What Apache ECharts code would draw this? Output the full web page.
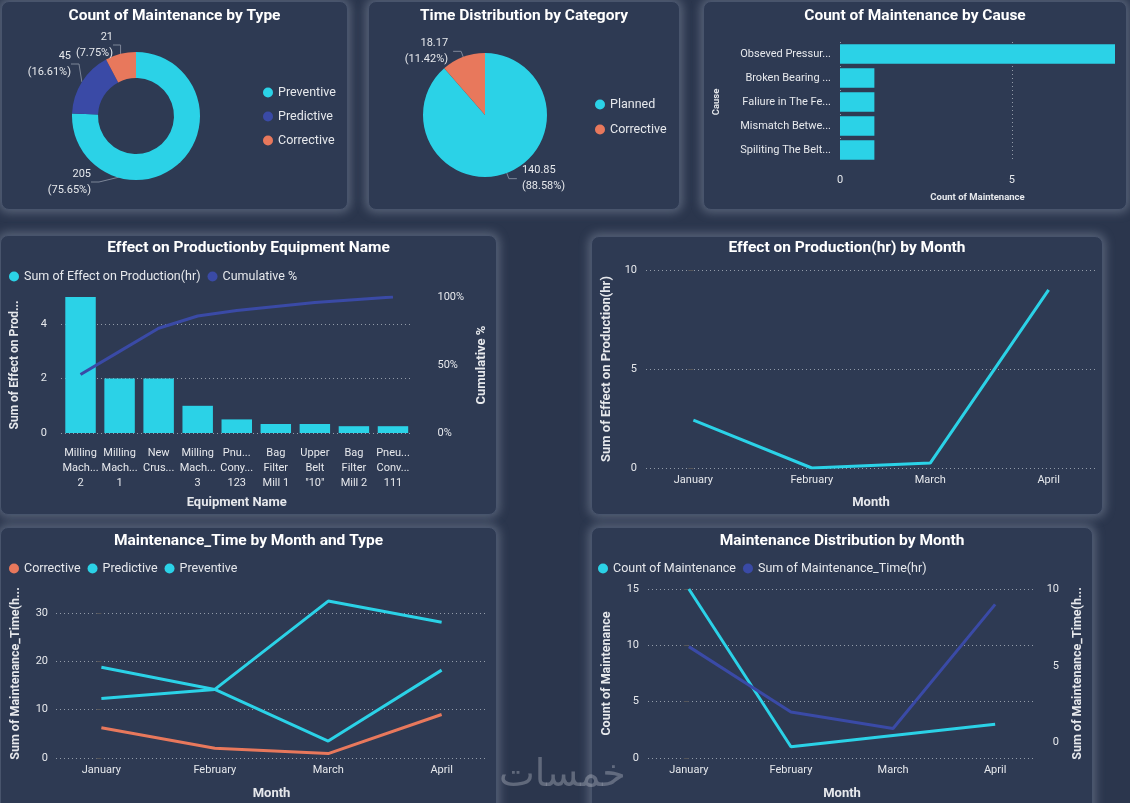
<!DOCTYPE html>
<html lang="en">
<head>
<meta charset="UTF-8">
<title>Maintenance Dashboard</title>
<script src="https://cdn.jsdelivr.net/npm/echarts@6/dist/echarts.min.js"></script>
<style>
  html, body { margin: 0; padding: 0; width: 1130px; height: 803px; overflow: hidden; background: #2b364d; }
  .panel { position: absolute; background: #2e3a53; border: 1px solid #48546c; border-radius: 8px;
           box-shadow: 0 0 10px 3px rgba(140, 150, 170, 0.45); box-sizing: border-box; }
  #mark { position: absolute; left: 499px; top: 751px; font: 38px 'DejaVu Sans', sans-serif;
          color: rgba(205, 210, 220, 0.33); direction: rtl; z-index: 5; pointer-events: none; }
</style>
</head>
<body>
<div class="panel" id="p1" style="left:1px;top:1px;width:347px;height:209px"></div>
<div class="panel" id="p2" style="left:368px;top:1px;width:312px;height:209px"></div>
<div class="panel" id="p3" style="left:703px;top:1px;width:424px;height:209px"></div>
<div class="panel" id="p4" style="left:0px;top:235px;width:497px;height:280px"></div>
<div class="panel" id="p5" style="left:591px;top:236px;width:512px;height:279px"></div>
<div class="panel" id="p6" style="left:0px;top:527px;width:497px;height:290px"></div>
<div class="panel" id="p7" style="left:591px;top:527px;width:502px;height:290px"></div>
<div id="mark">خمسات</div>
<script>
// ---- data ----
var typeNames = ['Preventive', 'Predictive', 'Corrective'];
var typeCounts = [205, 45, 21];

var timeCategories = ['Planned', 'Corrective'];
var timeValues = [140.85, 18.166];

var causes = ['Obseved Pressur...', 'Broken Bearing ...', 'Faliure in The Fe...', 'Mismatch Betwe...', 'Spiliting The Belt...'];
var causeCounts = [8, 1, 1, 1, 1];

var equipment = ['Milling\nMach...\n2', 'Milling\nMach...\n1', 'New\nCrus...', 'Milling\nMach...\n3',
                 'Pnu...\nCony...\n123', 'Bag\nFilter\nMill 1', 'Upper\nBelt\n"10"', 'Bag\nFilter\nMill 2', 'Pneu...\nConv...\n111'];
var effectByEquip = [5, 2, 2, 1, 0.5, 0.33, 0.33, 0.25, 0.25];
var cumulativePct = [43, 60, 77, 86, 90, 93, 96, 98, 100];

var months = ['January', 'February', 'March', 'April'];
var effectByMonth = [2.42, 0, 0.25, 9];

var correctiveTime = [6.25, 2, 0.92, 9];
var predictiveTime = [18.8, 14.2, 3.5, 18.2];
var preventiveTime = [12.3, 14.2, 32.5, 28.1];

var countByMonth = [15, 1, 2, 3];

// ---- styling ----
var CYAN = '#2bd2e7', INDIGO = '#3a4aa6', SALMON = '#e8785c';
var TXT = '#e6e8ec';
var GRID = 'rgba(230,235,240,0.55)';
var FONT = "Roboto, 'Noto Sans', sans-serif";

function title(text, top) {
    return { text: text, left: 'center', top: top, padding: 0,
             textStyle: { color: '#ffffff', fontSize: 15.5, fontWeight: 'bold', fontFamily: FONT } };
}
function legendText() { return { color: TXT, fontSize: 12.5, fontFamily: FONT }; }
function axisName(size) { return { color: TXT, fontSize: size || 13, fontWeight: 'bold', fontFamily: FONT }; }
function numLabel(extra) {
    return Object.assign({ color: TXT, fontSize: 11, fontFamily: FONT }, extra || {});
}
function dotted() { return { show: true, lineStyle: { color: GRID, type: [1, 3], width: 1 } }; }
function toPairs(vals) { return vals.map(function (v, i) { return [i, v]; }); }
function sum(vals) { return vals.reduce(function (a, b) { return a + b; }, 0); }
var pieRich = {
    r: { align: 'right', color: TXT, fontSize: 11, fontFamily: FONT, lineHeight: 16 },
    l: { align: 'left', color: TXT, fontSize: 11, fontFamily: FONT, lineHeight: 16 }
};

function monthAxis(nameGap) {
    return {
        type: 'value', min: -0.4, max: 3.4,
        name: 'Month', nameLocation: 'middle', nameGap: nameGap, nameTextStyle: axisName(),
        axisLabel: numLabel({ customValues: [0, 1, 2, 3], formatter: function (v) { return months[v]; }, margin: 7 }),
        axisLine: { show: false }, axisTick: { show: false }, splitLine: { show: false }
    };
}

// ---- Count of Maintenance by Type ----
var typeTotal = sum(typeCounts);
// label anchors as Power BI places them (label boxes only, not the slices)
var typeLabelPos = [[89, 180], [69, 62], [111, 43]];
var c1 = echarts.init(document.getElementById('p1'));
c1.setOption({
    animation: false,
    title: title('Count of Maintenance by Type', 6),
    legend: { orient: 'vertical', left: 256, top: 79, icon: 'circle', itemWidth: 10, itemHeight: 10,
              itemGap: 11, textStyle: legendText() },
    series: [{
        type: 'pie', center: [134, 114], radius: [38, 64], startAngle: 90,
        color: [CYAN, INDIGO, SALMON],
        data: typeNames.map(function (n, i) { return { name: n, value: typeCounts[i] }; }),
        label: { rich: pieRich,
                 formatter: function (p) {
                     return '{r|' + p.value + '}\n{r|(' + (p.value / typeTotal * 100).toFixed(2) + '%)}';
                 } },
        labelLine: { length: 6, length2: 8, lineStyle: { color: '#7d8698' } },
        labelLayout: function (p) {
            var pos = typeLabelPos[p.dataIndex];
            return { x: pos[0], y: pos[1], align: 'right', verticalAlign: 'middle' };
        }
    }]
});

// ---- Time Distribution by Category ----
var timeTotal = sum(timeValues);
var c2 = echarts.init(document.getElementById('p2'));
c2.setOption({
    animation: false,
    title: title('Time Distribution by Category', 6),
    legend: { orient: 'vertical', left: 221, top: 91, icon: 'circle', itemWidth: 10, itemHeight: 10,
              itemGap: 12, textStyle: legendText() },
    series: [{
        type: 'pie', center: [116, 113], radius: 62, startAngle: 90,
        color: [CYAN, SALMON],
        data: timeCategories.map(function (n, i) { return { name: n, value: timeValues[i] }; }),
        label: { rich: pieRich,
                 formatter: function (p) {
                     var k = p.dataIndex === 0 ? 'l' : 'r';
                     return '{' + k + '|' + p.value.toFixed(2) + '}\n{' + k + '|(' +
                            (p.value / timeTotal * 100).toFixed(2) + '%)}';
                 } },
        labelLine: { length: 6, length2: 8, lineStyle: { color: '#7d8698' } }
    }]
});

// ---- Count of Maintenance by Cause ----
var c3 = echarts.init(document.getElementById('p3'));
c3.setOption({
    animation: false,
    title: title('Count of Maintenance by Cause', 6),
    grid: { left: 132, right: 11, top: 40, bottom: 47 },
    xAxis: {
        type: 'value', min: 0, max: 8, interval: 5,
        name: 'Count of Maintenance', nameLocation: 'middle', nameGap: 31, nameTextStyle: axisName(9.5),
        axisLabel: numLabel({ showMaxLabel: false, margin: 13 }),
        splitLine: Object.assign(dotted(), { showMaxLine: false }),
        axisLine: { show: false }, axisTick: { show: false }
    },
    yAxis: {
        type: 'category', inverse: true, data: causes,
        name: 'Cause', nameLocation: 'middle', nameGap: 118, nameTextStyle: axisName(9.5),
        axisLabel: { color: TXT, fontSize: 11, fontFamily: FONT, margin: 9 },
        axisLine: { show: false }, axisTick: { show: false }
    },
    series: [{ type: 'bar', data: causeCounts, barCategoryGap: '18%', itemStyle: { color: CYAN } }]
});

// ---- Effect on Production by Equipment Name ----
var c4 = echarts.init(document.getElementById('p4'));
c4.setOption({
    animation: false,
    title: title('Effect on Productionby Equipment Name', 4),
    legend: { left: 3, top: 29, icon: 'circle', itemWidth: 10, itemHeight: 10, itemGap: 7, textStyle: legendText() },
    grid: { left: 56, right: 77, top: 61, bottom: 77 },
    xAxis: {
        type: 'category', data: equipment,
        name: 'Equipment Name', nameLocation: 'middle', nameGap: 63, nameTextStyle: axisName(),
        axisLabel: { color: TXT, fontSize: 11, fontFamily: FONT, lineHeight: 15, margin: 13, interval: 0 },
        axisLine: { show: false }, axisTick: { show: false }
    },
    yAxis: [{
        type: 'value', min: 0, max: 5, interval: 2,
        name: 'Sum of Effect on Prod...', nameLocation: 'middle', nameGap: 40, nameTextStyle: axisName(12),
        axisLabel: numLabel({ showMaxLabel: false, margin: 14 }),
        axisLine: { show: false },
        splitLine: Object.assign(dotted(), { showMaxLine: false })
    }, {
        type: 'value', min: 0, max: 100, interval: 50,
        name: 'Cumulative %', nameLocation: 'middle', nameGap: 62, nameTextStyle: axisName(),
        axisLabel: numLabel({ formatter: '{value}%', margin: 25 }),
        axisLine: { show: false }, splitLine: { show: false }
    }],
    series: [{
        type: 'bar', name: 'Sum of Effect on Production(hr)', data: effectByEquip,
        barCategoryGap: '22%', itemStyle: { color: CYAN }
    }, {
        type: 'line', name: 'Cumulative %', yAxisIndex: 1, data: cumulativePct, symbol: 'none',
        lineStyle: { color: INDIGO, width: 3 }, itemStyle: { color: INDIGO }
    }]
});

// ---- Effect on Production(hr) by Month ----
var c5 = echarts.init(document.getElementById('p5'));
c5.setOption({
    animation: false,
    title: title('Effect on Production(hr) by Month', 3),
    grid: { left: 47, right: 6, top: 33, bottom: 43 },
    xAxis: monthAxis(28),
    yAxis: {
        type: 'value', min: 0, max: 10, interval: 5,
        name: 'Sum of Effect on Production(hr)', nameLocation: 'middle', nameGap: 33, nameTextStyle: axisName(),
        axisLabel: numLabel({ margin: 9 }),
        axisLine: { show: false },
        splitLine: dotted()
    },
    series: [{ type: 'line', data: toPairs(effectByMonth), symbol: 'none', lineStyle: { color: CYAN, width: 3 } }]
});

// ---- Maintenance_Time by Month and Type ----
var c6 = echarts.init(document.getElementById('p6'));
c6.setOption({
    animation: false,
    title: title('Maintenance_Time by Month and Type', 5),
    legend: { left: 3, top: 29, icon: 'circle', itemWidth: 10, itemHeight: 10, itemGap: 7, textStyle: legendText() },
    grid: { left: 48, right: 9, top: 61, bottom: 58 },
    xAxis: monthAxis(29),
    yAxis: {
        type: 'value', min: 0, max: 35, interval: 10,
        name: 'Sum of Maintenance_Time(h...', nameLocation: 'middle', nameGap: 34, nameTextStyle: axisName(12.5),
        axisLabel: numLabel({ showMaxLabel: false, margin: 8 }),
        axisLine: { show: false },
        splitLine: Object.assign(dotted(), { showMaxLine: false })
    },
    series: [
        { type: 'line', name: 'Corrective', data: toPairs(correctiveTime), symbol: 'none',
          lineStyle: { color: SALMON, width: 3 }, itemStyle: { color: SALMON } },
        { type: 'line', name: 'Predictive', data: toPairs(predictiveTime), symbol: 'none',
          lineStyle: { color: CYAN, width: 3 }, itemStyle: { color: CYAN } },
        { type: 'line', name: 'Preventive', data: toPairs(preventiveTime), symbol: 'none',
          lineStyle: { color: CYAN, width: 3 }, itemStyle: { color: CYAN } }
    ]
});

// ---- Maintenance Distribution by Month ----
var c7 = echarts.init(document.getElementById('p7'));
c7.setOption({
    animation: false,
    title: title('Maintenance Distribution by Month', 5),
    legend: { left: 1, top: 29, icon: 'circle', itemWidth: 10, itemHeight: 10, itemGap: 7, textStyle: legendText() },
    grid: { left: 49, right: 48, top: 61, bottom: 58 },
    xAxis: monthAxis(29),
    yAxis: [{
        type: 'value', min: 0, max: 15, interval: 5,
        name: 'Count of Maintenance', nameLocation: 'middle', nameGap: 35, nameTextStyle: axisName(12.5),
        axisLabel: numLabel({ margin: 9 }),
        axisLine: { show: false },
        splitLine: dotted()
    }, {
        type: 'value', min: -1, max: 10,
        name: 'Sum of Maintenance_Time(h...', nameLocation: 'middle', nameGap: 35, nameTextStyle: axisName(12.5),
        axisLabel: { customValues: [0, 5, 10], margin: 9,
                     formatter: function (v) { return '{a|' + v + '}'; },
                     rich: { a: { width: 14, align: 'right', color: TXT, fontSize: 11, fontFamily: FONT } } },
        axisTick: { show: false }, axisLine: { show: false }, splitLine: { show: false }
    }],
    series: [
        { type: 'line', name: 'Count of Maintenance', data: toPairs(countByMonth), symbol: 'none',
          lineStyle: { color: CYAN, width: 3 }, itemStyle: { color: CYAN } },
        { type: 'line', name: 'Sum of Maintenance_Time(hr)', yAxisIndex: 1, data: toPairs(correctiveTime), symbol: 'none',
          lineStyle: { color: INDIGO, width: 3 }, itemStyle: { color: INDIGO } }
    ]
});
</script>
</body>
</html>
